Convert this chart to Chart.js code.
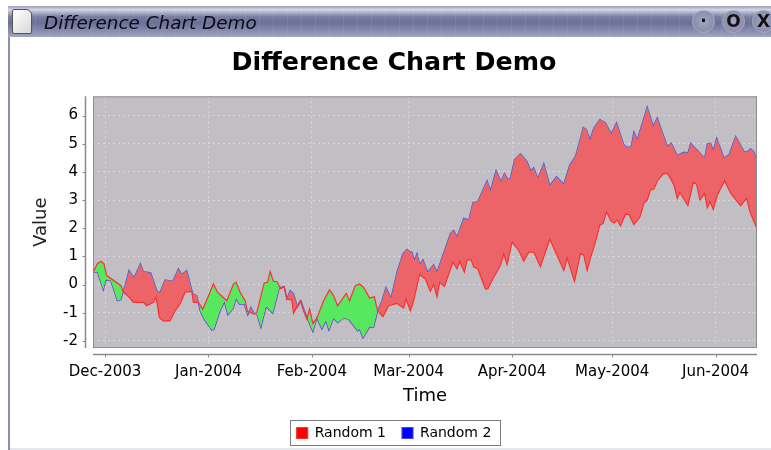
<!DOCTYPE html>
<html>
<head>
<meta charset="utf-8">
<title>Difference Chart Demo</title>
<script src="https://cdn.jsdelivr.net/npm/chart.js@4/dist/chart.umd.min.js"></script>
<style>
html,body{margin:0;padding:0;background:#fff;overflow:hidden}
body{width:771px;height:450px;position:relative}
#frame{position:absolute;left:8px;top:6px;width:2px;height:444px;background:#8a8fb0}
#bar{position:absolute;left:8px;top:6px;width:763px;height:31px;filter:blur(.5px);
background:repeating-linear-gradient(90deg,rgba(255,255,255,0) 0 13px,rgba(255,255,255,.07) 13px 14px),
linear-gradient(180deg,#9a9dbb 0,#d4d5e2 12%,#787ca0 35%,#6c7098 55%,#8d91b3 85%,#a3a6c4 100%)}
#icon{position:absolute;left:4px;top:3px;width:20px;height:25px;background:linear-gradient(135deg,#fff,#d8d8d8);border:1px solid #555;border-radius:2px 6px 2px 2px;box-sizing:border-box}
#wtitle{position:absolute;left:36px;top:6px;font:italic 18.4px "DejaVu Sans",sans-serif;color:#0a0a14;white-space:nowrap}
.btn{position:absolute;top:4px;width:23px;height:23px;border-radius:50%;background:radial-gradient(circle,#a4a6c0,#7f83a6);box-sizing:border-box;border:1px solid #a8aac2;text-align:center;font:bold 17px/20px "DejaVu Sans",sans-serif;color:#111}
#chart{position:absolute;left:31px;top:37px;filter:blur(.45px)}
#foot{position:absolute;left:10px;top:448px;width:761px;height:2px;background:#e6e6ee}
</style>
</head>
<body>
<div id="frame"></div>
<div id="bar">
<div id="icon"></div>
<div id="wtitle">Difference Chart Demo</div>
<div class="btn" style="left:684px">&middot;</div>
<div class="btn" style="left:714px">O</div>
<div class="btn" style="left:744px">X</div>
</div>
<div id="foot"></div>
<canvas id="chart" width="740" height="413"></canvas>
<script>
const CHART_TITLE = "Difference Chart Demo";
const X_TITLE = "Time";
const Y_TITLE = "Value";
const SERIES_NAMES = ["Random 1","Random 2"];

// days counted from 1 Dec 2003
const tickDays = [0,31,62,91,122,152,183];
const tickLabels = ["Dec-2003","Jan-2004","Feb-2004","Mar-2004","Apr-2004","May-2004","Jun-2004"];
const yTicks = [-2,-1,0,1,2,3,4,5,6];

const random1Days = [-3.5,-2.3,-1.2,-0.3,0.5,4.8,5.5,7.3,8.5,11.5,12.5,14.5,15.3,16.3,17.5,19.5,21,22.5,24,26,26.5,28,29.3,32.5,33.7,36.5,38.5,39.3,40.5,42,42.7,44.7,45.5,47.7,48.7,49.5,50.5,51.5,52.7,53.7,54.5,56,56.5,58.5,59.5,60.5,61.3,62.3,63.5,65.5,67.3,68.5,69.7,72.3,73.3,75,76.3,77.5,79.3,80.7,81.7,83.3,85,87.5,89.5,90.2,91.5,92.5,94.3,96,97.5,98.5,99.5,100.3,101.7,104.3,105.5,106.3,107.7,108.5,109.7,110.5,111.7,114,114.7,116.5,118.5,119.5,120.5,122,124,125.5,127,128.5,130.5,133.3,137.5,138.5,140.7,142.5,143.5,144.5,145.5,146.7,148.3,149.3,150.3,151.7,152.5,153.5,154.5,156,157,158.5,160.3,161.5,162.5,163.5,164.5,165.7,167.5,168.7,170.5,171.5,172.3,174.7,176.3,177.3,178.3,179.7,180.5,181.3,182.3,183.5,185.7,187.5,190.5,192.3,193.3,195.5];
const random1Values = [0.44,0.74,0.83,0.74,0.32,-0.04,-0.27,-0.45,-0.63,-0.63,-0.75,-0.63,-0.45,-1.17,-1.29,-1.29,-0.93,-0.69,-0.27,-0.24,-0.63,-0.63,-0.87,0.02,-0.27,-0.57,0.02,0.08,-0.27,-0.57,-0.95,-1.05,-0.99,0.06,0.08,0.46,0.11,0.11,-0.15,-0.07,-0.51,-0.55,-1.02,-0.57,-0.93,-1.23,-0.87,-1.38,-1.19,-0.57,-0.19,-0.39,-0.75,-0.31,-0.57,-0.04,0.02,-0.1,-0.48,-0.43,-0.93,-1.14,-0.75,-0.67,-0.83,-0.51,-0.93,-0.57,0.36,0.2,-0.24,0,-0.43,0.08,-0.07,0.8,0.56,0.83,0.44,0.88,0.88,0.62,0.56,-0.15,-0.15,0.26,0.68,1.1,0.71,1.51,1.21,0.83,1.15,1.15,0.64,1.61,0.5,0.95,0.11,1.1,1.04,0.5,0.95,1.39,2.11,2.17,2.58,2.25,2.19,2.29,2.08,2.5,2.49,2.13,2.4,2.88,3,3.36,3.39,3.71,3.95,3.93,3.54,3.06,3.27,2.8,3.63,3.56,3,3.24,2.73,2.94,2.67,3.18,3.68,3.24,2.8,3.06,2.58,1.95];

const random2Days = [-3.5,-2.3,-0.5,0.3,1.7,3.7,4.7,6,7.2,8.7,10.6,11.5,13.7,15.7,16.5,18,20.3,22,23,24.5,26.3,27.5,28.5,29.7,32,32.7,34.5,35.8,36.8,38.5,39.3,40.3,41.7,42.8,43.7,44.7,45.5,46.7,48.3,50.3,52.3,53.7,54.5,55.5,56.5,57.7,58.7,60.5,62.3,63.5,65,66.2,67.1,68.5,69.7,71.5,73,75.7,76.3,77.3,79.3,80.5,81.7,83,84.2,85.7,87.5,89.3,90.5,91.5,92,92.7,93.5,94.3,95.3,96.7,98.5,99.5,103.5,104.5,105.5,107.5,109,110.3,111.7,114.5,115.5,117.2,118.7,119.7,120.7,121.5,122.7,124.5,126.5,127.5,128.5,129.7,131.5,133.3,135.3,137.5,139.3,141,142.5,143.3,144.3,145.3,146.5,148.3,150,151.7,153.3,155.5,156.5,157.7,158.5,159.5,162.5,164.3,165.5,168.5,169.7,171.5,173.5,174.7,175.5,179.7,180.5,181.5,182.3,183.3,185.5,187,189,191.5,192.3,193.5,194.5,195.5];
const random2Values = [0.44,0.44,-0.19,0.17,0.14,-0.57,-0.54,-0.04,0.5,0.24,0.74,0.46,0.42,-0.27,-0.27,0.17,0.12,0.56,0.36,0.5,-0.33,-0.39,-0.93,-1.23,-1.62,-1.58,-0.93,-0.61,-1.08,-0.83,-0.49,-0.69,-0.69,-1.08,-0.81,-1.02,-1.05,-1.52,-0.79,-1.02,-0.1,-0.07,-0.51,-0.21,-0.33,-0.79,-0.57,-1.17,-1.67,-1.19,-1.58,-1.29,-1.62,-1.19,-1.35,-1.19,-1.23,-1.64,-1.58,-1.9,-1.5,-1.52,-0.93,-0.57,-0.1,-0.48,0.44,1.1,1.25,1.15,1.15,0.86,1.1,0.71,0.88,0.44,0.71,0.44,1.81,1.93,1.69,2.35,2.29,2.92,2.94,3.69,3.33,4.05,3.65,3.95,3.74,3.77,4.43,4.64,4.37,4.05,4.15,3.77,4.29,3.51,3.83,3.56,4.25,4.55,5.2,5.58,5.5,5.14,5.56,5.86,5.74,5.35,5.74,4.96,4.87,4.9,5.42,5.14,6.3,5.62,5.92,4.9,5.02,4.58,4.7,4.67,5.02,4.49,4.99,5.02,4.75,5.2,4.49,4.61,5.26,4.73,4.7,4.82,4.7,4.31];

const COLORS = {
plot:"#c1bfc4",
frame:"#8c8c8c",
grid:"#d8d7da",
axis:"#8a8a8a",
red:"#fb3030",
blue:"#4545e8",
redFill:"#ec6468",
greenFill:"#57e860"
};

const FONT = "'DejaVu Sans', sans-serif";
const AXIS_GAP = 7; // axis lines sit a little away from the grey plot

const toPoints = (days,values) => days.map((d,i)=>({x:d,y:values[i]}));

// grey plot, its frame, the offset axis lines and the box round the legend
const jfreeLook = {
id:"jfreeLook",
beforeDraw(chart){
const {ctx,chartArea:a} = chart;
ctx.save();
ctx.fillStyle = COLORS.plot;
ctx.fillRect(a.left,a.top,a.width,a.height);
ctx.restore();
},
afterDraw(chart){
const {ctx,chartArea:a,scales} = chart;
ctx.save();
ctx.strokeStyle = COLORS.frame;
ctx.lineWidth = 1;
ctx.strokeRect(a.left+.5,a.top+.5,a.width-1,a.height-1);
ctx.strokeStyle = COLORS.axis;
ctx.lineWidth = 1.5;
ctx.beginPath();
const yLine = a.left-AXIS_GAP-.5;
ctx.moveTo(yLine,a.top);
ctx.lineTo(yLine,a.bottom);
const xLine = a.bottom+AXIS_GAP-.5;
ctx.moveTo(a.left,xLine);
ctx.lineTo(a.right,xLine);
ctx.stroke();
ctx.lineWidth = 1;
ctx.beginPath();
yTicks.forEach(v=>{
const p = Math.round(scales.y.getPixelForValue(v))+.5;
ctx.moveTo(yLine-3,p);
ctx.lineTo(yLine,p);
});
tickDays.forEach(v=>{
const p = Math.round(scales.x.getPixelForValue(v))+.5;
ctx.moveTo(p,xLine);
ctx.lineTo(p,xLine+3);
});
ctx.stroke();
const hits = chart.legend.legendHitBoxes;
const first = hits[0], last = hits[hits.length-1];
const boxLeft = Math.round(first.left)-7;
const boxRight = Math.round(last.left+last.width)+9;
const boxTop = Math.round(first.top)-6;
ctx.strokeStyle = "#7c7c7c";
ctx.strokeRect(boxLeft+.5,boxTop+.5,boxRight-boxLeft,25);
ctx.restore();
}
};

new Chart(document.getElementById("chart"),{
type:"line",
plugins:[jfreeLook],
data:{
datasets:[
{
label:SERIES_NAMES[0],
data:toPoints(random1Days,random1Values),
borderColor:COLORS.red,
backgroundColor:"#ff0000",
borderWidth:1.2,
pointRadius:0,
tension:0,
fill:{target:1,above:COLORS.greenFill,below:COLORS.redFill}
},
{
label:SERIES_NAMES[1],
data:toPoints(random2Days,random2Values),
borderColor:COLORS.blue,
backgroundColor:"#0000ff",
borderWidth:1.2,
pointRadius:0,
tension:0,
fill:false
}
]
},
options:{
responsive:false,
animation:false,
layout:{padding:{left:0,right:14,top:0,bottom:0}},
plugins:{
title:{display:true,text:CHART_TITLE,color:"#000",font:{family:FONT,size:25.3,weight:"bold"},padding:{top:11,bottom:18}},
legend:{
position:"bottom",
labels:{
color:"#000",
font:{family:FONT,size:14},
boxWidth:11,
boxHeight:11,
padding:16
}
},
tooltip:{enabled:false}
},
scales:{
x:{
type:"linear",
min:-3.6,
max:195.4,
afterBuildTicks:s=>{s.ticks = tickDays.map(value=>({value}));},
afterFit:s=>{s.height = 62;},
ticks:{
color:"#000",
font:{family:FONT,size:15},
maxRotation:0,
autoSkip:false,
padding:0,
callback:v=>tickLabels[tickDays.indexOf(v)]
},
border:{display:false,dash:[2,3]},
grid:{color:COLORS.grid,tickColor:"transparent",tickLength:15},
title:{display:true,text:X_TITLE,color:"#000",font:{family:FONT,size:18},padding:{top:4,bottom:3}}
},
y:{
type:"linear",
min:-2.25,
max:6.68,
afterBuildTicks:s=>{s.ticks = yTicks.map(value=>({value}));},
afterFit:s=>{s.width = 62;},
ticks:{
color:"#000",
font:{family:FONT,size:15},
padding:0,
callback:v=>String(v)
},
border:{display:false,dash:[2,3]},
grid:{color:COLORS.grid,tickColor:"transparent",tickLength:15},
title:{display:true,text:Y_TITLE,color:"#222",font:{family:FONT,size:18},padding:{top:0,bottom:4}}
}
}
}
});
</script>
</body>
</html>
